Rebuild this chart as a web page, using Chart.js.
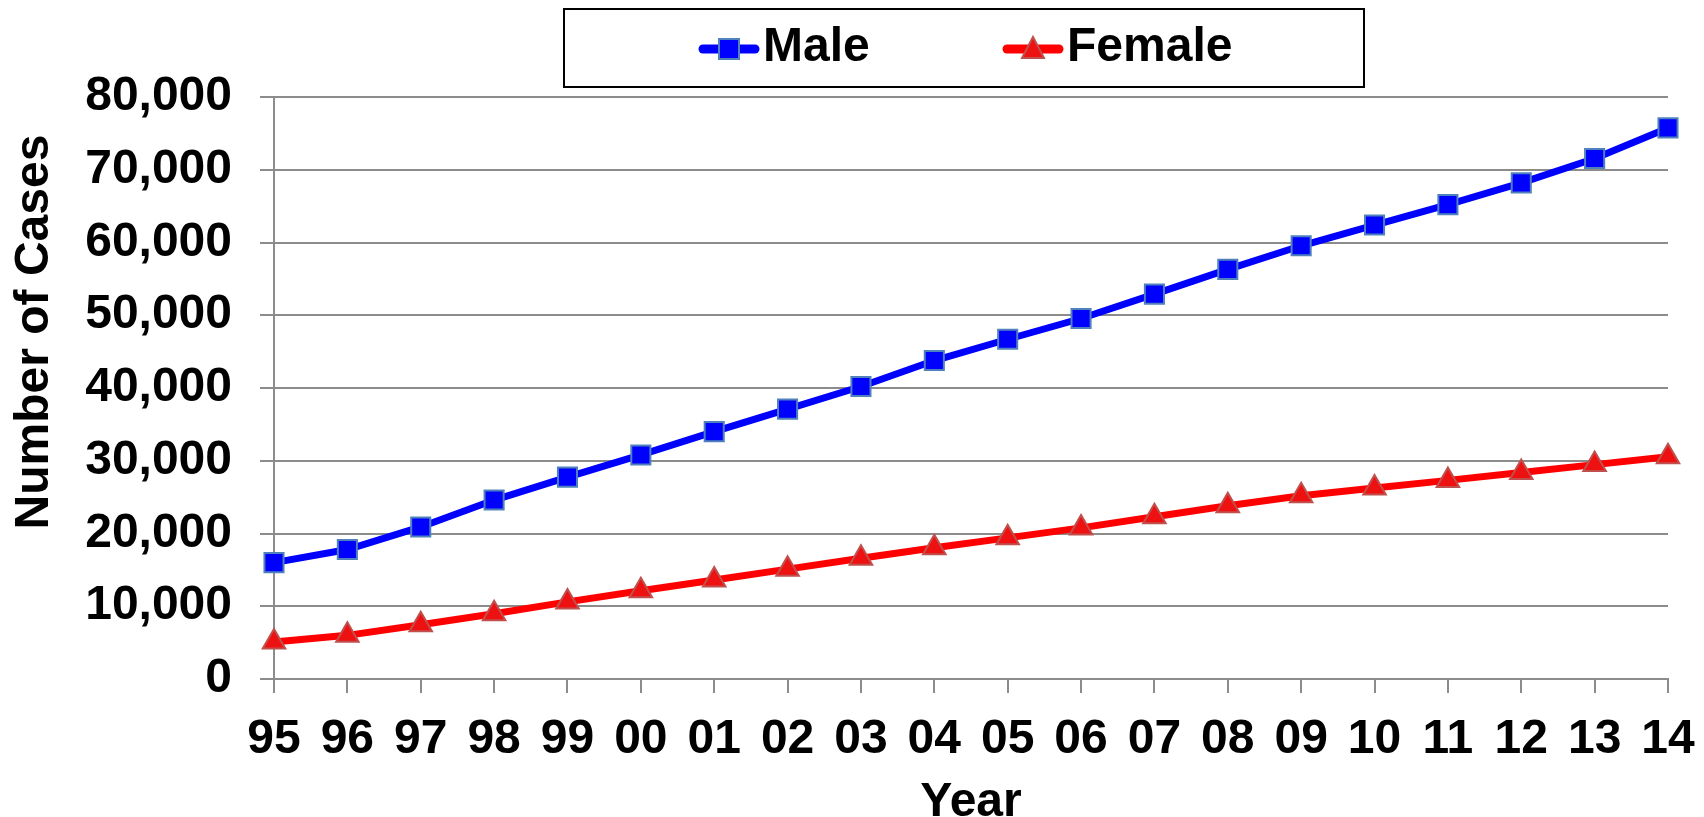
<!DOCTYPE html>
<html>
<head>
<meta charset="utf-8">
<script src="https://cdn.jsdelivr.net/npm/chart.js@4.4.1/dist/chart.umd.min.js"></script>
<style>
html,body{margin:0;padding:0;background:#ffffff;}
#wrap{width:1704px;height:817px;position:relative;}
canvas{display:block;}
</style>
</head>
<body>
<div id="wrap"><canvas id="c" width="1704" height="817"></canvas></div>
<script>
// ---- data ----
const years = ['95','96','97','98','99','00','01','02','03','04','05','06','07','08','09','10','11','12','13','14'];
const male = [16000,17800,20900,24600,27750,30800,34000,37100,40200,43770,46700,49550,52900,56300,59550,62400,65200,68200,71550,75750];
const female = [5100,6000,7450,8970,10600,12130,13600,15100,16600,18050,19400,20770,22300,23820,25180,26260,27300,28390,29470,30560];
const seriesNames = ['Male','Female'];
const yTickValues = [0,10000,20000,30000,40000,50000,60000,70000,80000];
const xTitle = 'Year';
const yTitle = 'Number of Cases';

const FONT = "'Liberation Sans', Arial, sans-serif";
const GRID = '#8c8c8c';

function markerCanvas(type, lineColor, fill, stroke) {
  const cv = document.createElement('canvas');
  cv.width = 62; cv.height = 30;
  const g = cv.getContext('2d');
  g.strokeStyle = lineColor; g.lineWidth = 9; g.lineCap = 'round';
  g.beginPath(); g.moveTo(5, 15); g.lineTo(57, 15); g.stroke();
  g.fillStyle = fill; g.strokeStyle = stroke; g.lineWidth = 2;
  if (type === 'rect') {
    g.beginPath(); g.rect(21, 5, 20, 20); g.fill(); g.stroke();
  } else {
    g.beginPath(); g.moveTo(31, 3); g.lineTo(42, 24); g.lineTo(20, 24); g.closePath(); g.fill(); g.stroke();
  }
  return cv;
}

const customText = {
  id: 'customText',
  afterDraw(chart) {
    const ctx = chart.ctx;
    ctx.save();
    // legend box
    ctx.strokeStyle = '#000000';
    ctx.lineWidth = 2;
    ctx.strokeRect(564, 9, 800, 78);
    const starts = [702, 1006];
    ctx.font = 'bold 48px ' + FONT;
    ctx.textBaseline = 'middle';
    ctx.textAlign = 'left';
    ctx.fillStyle = '#000000';
    chart.data.datasets.forEach((ds, i) => {
      const mc = markerCanvas(ds.pointStyle, ds.borderColor, ds.pointBackgroundColor, ds.pointBorderColor);
      ctx.drawImage(mc, starts[i] - 4, 49 - 15);
      ctx.fillText(ds.label, starts[i] + 61, 48);
    });
    // y-axis title
    ctx.translate(35, 332);
    ctx.rotate(-Math.PI / 2);
    ctx.textAlign = 'center';
    ctx.textBaseline = 'middle';
    ctx.font = 'bold 48px ' + FONT;
    ctx.fillText(yTitle, 0, 0);
    ctx.restore();
  }
};

new Chart(document.getElementById('c'), {
  type: 'line',
  data: {
    labels: years,
    datasets: [
      {
        label: seriesNames[0], data: male,
        borderColor: '#0000ff', borderWidth: 7, tension: 0,
        pointStyle: 'rect', pointRadius: 13.5, pointHoverRadius: 13.5,
        pointBackgroundColor: '#0000ff', pointBorderColor: '#4f81bd', pointBorderWidth: 2
      },
      {
        label: seriesNames[1], data: female,
        borderColor: '#ff0000', borderWidth: 7, tension: 0,
        pointStyle: 'triangle', pointRadius: 13, pointHoverRadius: 13,
        pointBackgroundColor: '#ee1111', pointBorderColor: '#c0504d', pointBorderWidth: 2
      }
    ]
  },
  options: {
    responsive: false,
    animation: false,
    devicePixelRatio: 1,
    events: [],
    layout: { padding: { left: 0, right: 36, top: 97, bottom: 0 } },
    plugins: { legend: { display: false }, tooltip: { enabled: false } },
    scales: {
      x: {
        type: 'category',
        offset: false,
        grid: { drawOnChartArea: false, drawTicks: true, tickLength: 14, color: GRID, lineWidth: 2 },
        border: { display: true, color: GRID, width: 2 },
        ticks: { color: '#000', font: { family: FONT, size: 48, weight: 'bold' }, padding: 18, maxRotation: 0, autoSkip: false },
        title: { display: true, text: xTitle, color: '#000', font: { family: FONT, size: 48, weight: 'bold', lineHeight: 0.6 }, padding: 0 },
        afterFit(scale) { scale.height = 138; scale.paddingLeft = 0; scale.paddingRight = 0; }
      },
      y: {
        min: 0, max: 80000,
        afterBuildTicks(scale) { scale.ticks = yTickValues.map(v => ({ value: v })); },
        grid: { drawTicks: true, tickLength: 14, color: GRID, lineWidth: 2 },
        border: { display: true, color: GRID, width: 2 },
        ticks: {
          color: '#000', font: { family: FONT, size: 48, weight: 'bold' }, padding: 28,
          callback: (v) => Number(v).toLocaleString('en-US')
        },
        afterFit(scale) { scale.width = 274; }
      }
    }
  },
  plugins: [customText]
});
</script>
</body>
</html>
